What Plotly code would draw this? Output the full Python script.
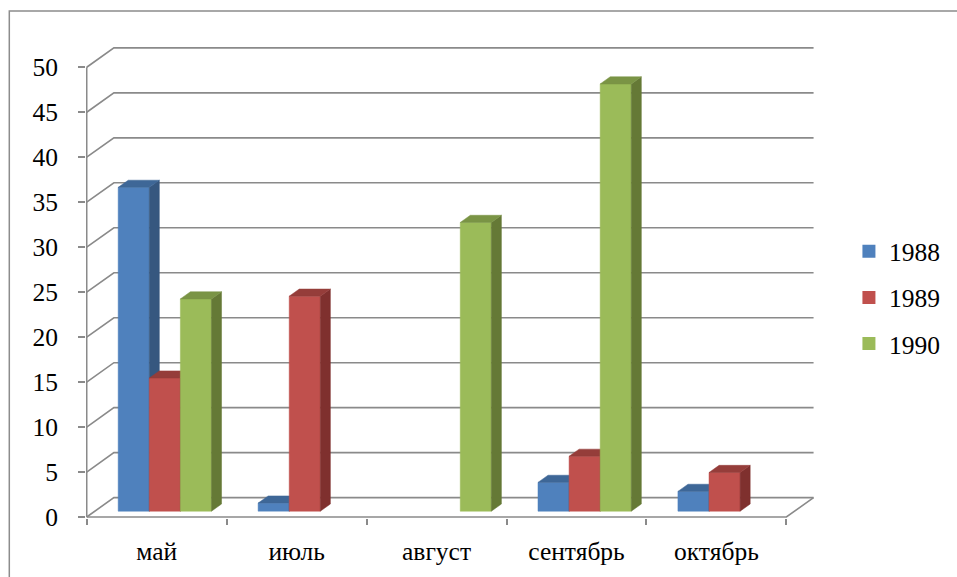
import plotly.graph_objects as go

# ---- data ----
months = ["май", "июль", "август", "сентябрь", "октябрь"]
years = ["1988", "1989", "1990"]
v1988 = [36, 0.9, 0, 3.2, 2.2]
v1989 = [14.8, 23.9, 0, 6.1, 4.3]
v1990 = [23.6, 0, 32.1, 47.5, 0]
y_ticks = [0, 5, 10, 15, 20, 25, 30, 35, 40, 45, 50]

series = [v1988, v1989, v1990]

# face colours (front, right side, top) per series
front_col = ["#4F81BD", "#C0504D", "#9BBB59"]
side_col = ["#36577F", "#7F302E", "#657936"]
top_col = ["#3E6797", "#953D3A", "#7A9445"]

GRID = "#8a8a8a"
FONT = "Liberation Serif, Times New Roman, serif"
FSIZE = 25.5

# ---- pseudo-3D geometry (category units on x, value units on y) ----
W, H = 957, 577
PX_CAT = 140.5          # pixels per category on the front plane
PX_VAL = 9.004          # pixels per value unit
X0_PX, Y0_PX = 86.7, 517.5
DX = 27.3 / PX_CAT      # depth offset of the back wall
DY = 19.4 / PX_VAL
BAR_W = 1 / 4.5         # gap width 150 %
F0, FD = 0.30, 0.37     # bar front depth fraction and bar depth fraction
n_cat = len(months)
y_max = y_ticks[-1]

ml, mr, mt = 86, 122, 30
plot_bottom = Y0_PX + 1
mb = H - plot_bottom
plot_w = W - ml - mr
plot_h = plot_bottom - mt
x_range = [(ml - X0_PX) / PX_CAT, (W - mr - X0_PX) / PX_CAT]
y_range = [(Y0_PX - plot_bottom) / PX_VAL, (Y0_PX - mt) / PX_VAL]

fig = go.Figure()

# gridlines / walls: front point -> back point -> right end
gx, gy = [], []
for t in y_ticks:
    gx += [0, DX, n_cat + DX, None]
    gy += [t, t + DY, t + DY, None]
# floor front and right edges, front vertical axis
gx += [0, n_cat, n_cat + DX, None, 0, 0]
gy += [0, 0, DY, None, 0, y_max]
fig.add_trace(go.Scatter(x=gx, y=gy, mode="lines",
                         line=dict(color=GRID, width=1.6),
                         hoverinfo="skip", showlegend=False))


def poly(xs, ys, color):
    fig.add_trace(go.Scatter(
        x=xs + [xs[0]], y=ys + [ys[0]], mode="lines", fill="toself",
        fillcolor=color, line=dict(color=color, width=0.5),
        hoverinfo="skip", showlegend=False))


# columns, drawn left to right so nearer faces cover farther ones
for c in range(n_cat):
    for s, vals in enumerate(series):
        v = vals[c]
        if v <= 0:
            continue
        xl = c + (1 - 3 * BAR_W) / 2 + s * BAR_W + F0 * DX
        yb = F0 * DY
        xr = xl + BAR_W
        ddx, ddy = FD * DX, FD * DY
        poly([xl, xr, xr, xl], [yb, yb, yb + v, yb + v], front_col[s])
        poly([xr, xr + ddx, xr + ddx, xr],
             [yb, yb + ddy, yb + v + ddy, yb + v], side_col[s])
        poly([xl, xr, xr + ddx, xl + ddx],
             [yb + v, yb + v, yb + v + ddy, yb + v + ddy], top_col[s])

# legend entries
for s, name in enumerate(years):
    fig.add_trace(go.Scatter(
        x=[None], y=[None], mode="markers", name=name, legendgroup=name,
        marker=dict(symbol="square", size=13, color=front_col[s])))

fig.update_layout(
    width=W, height=H,
    margin=dict(l=ml, r=mr, t=mt, b=mb, pad=0),
    paper_bgcolor="white", plot_bgcolor="white",
    font=dict(family=FONT, size=FSIZE, color="black"),
    xaxis=dict(range=x_range, showgrid=False, zeroline=False, showline=False,
               tickmode="array", tickvals=[c + 0.5 for c in range(n_cat)],
               ticktext=months, ticks="", ticklabelstandoff=15,
               tickfont=dict(family=FONT, size=FSIZE, color="black"),
               minor=dict(tickmode="array", tickvals=list(range(n_cat + 1)),
                          ticks="outside", ticklen=6, tickwidth=1.6,
                          tickcolor=GRID, showgrid=False),
               fixedrange=True),
    yaxis=dict(range=y_range, showgrid=False, zeroline=False, showline=False,
               tickmode="array", tickvals=y_ticks,
               ticktext=[str(t) for t in y_ticks],
               tickfont=dict(family=FONT, size=FSIZE, color="black"),
               ticks="outside", ticklen=7, tickwidth=1.6, tickcolor=GRID,
               ticklabelstandoff=15, fixedrange=True),
    legend=dict(x=(852 - ml) / plot_w, y=(plot_bottom - 298) / plot_h,
                xanchor="left", yanchor="middle", tracegroupgap=10,
                font=dict(family=FONT, size=FSIZE, color="black"),
                bgcolor="rgba(0,0,0,0)"),
    shapes=[dict(type="rect", xref="paper", yref="paper",
                 x0=(9 - ml) / plot_w, x1=1.5,
                 y0=-0.5, y1=(plot_bottom - 11) / plot_h,
                 line=dict(color="#8c8c8c", width=1.5))],
)

fig.write_html("out.html")
